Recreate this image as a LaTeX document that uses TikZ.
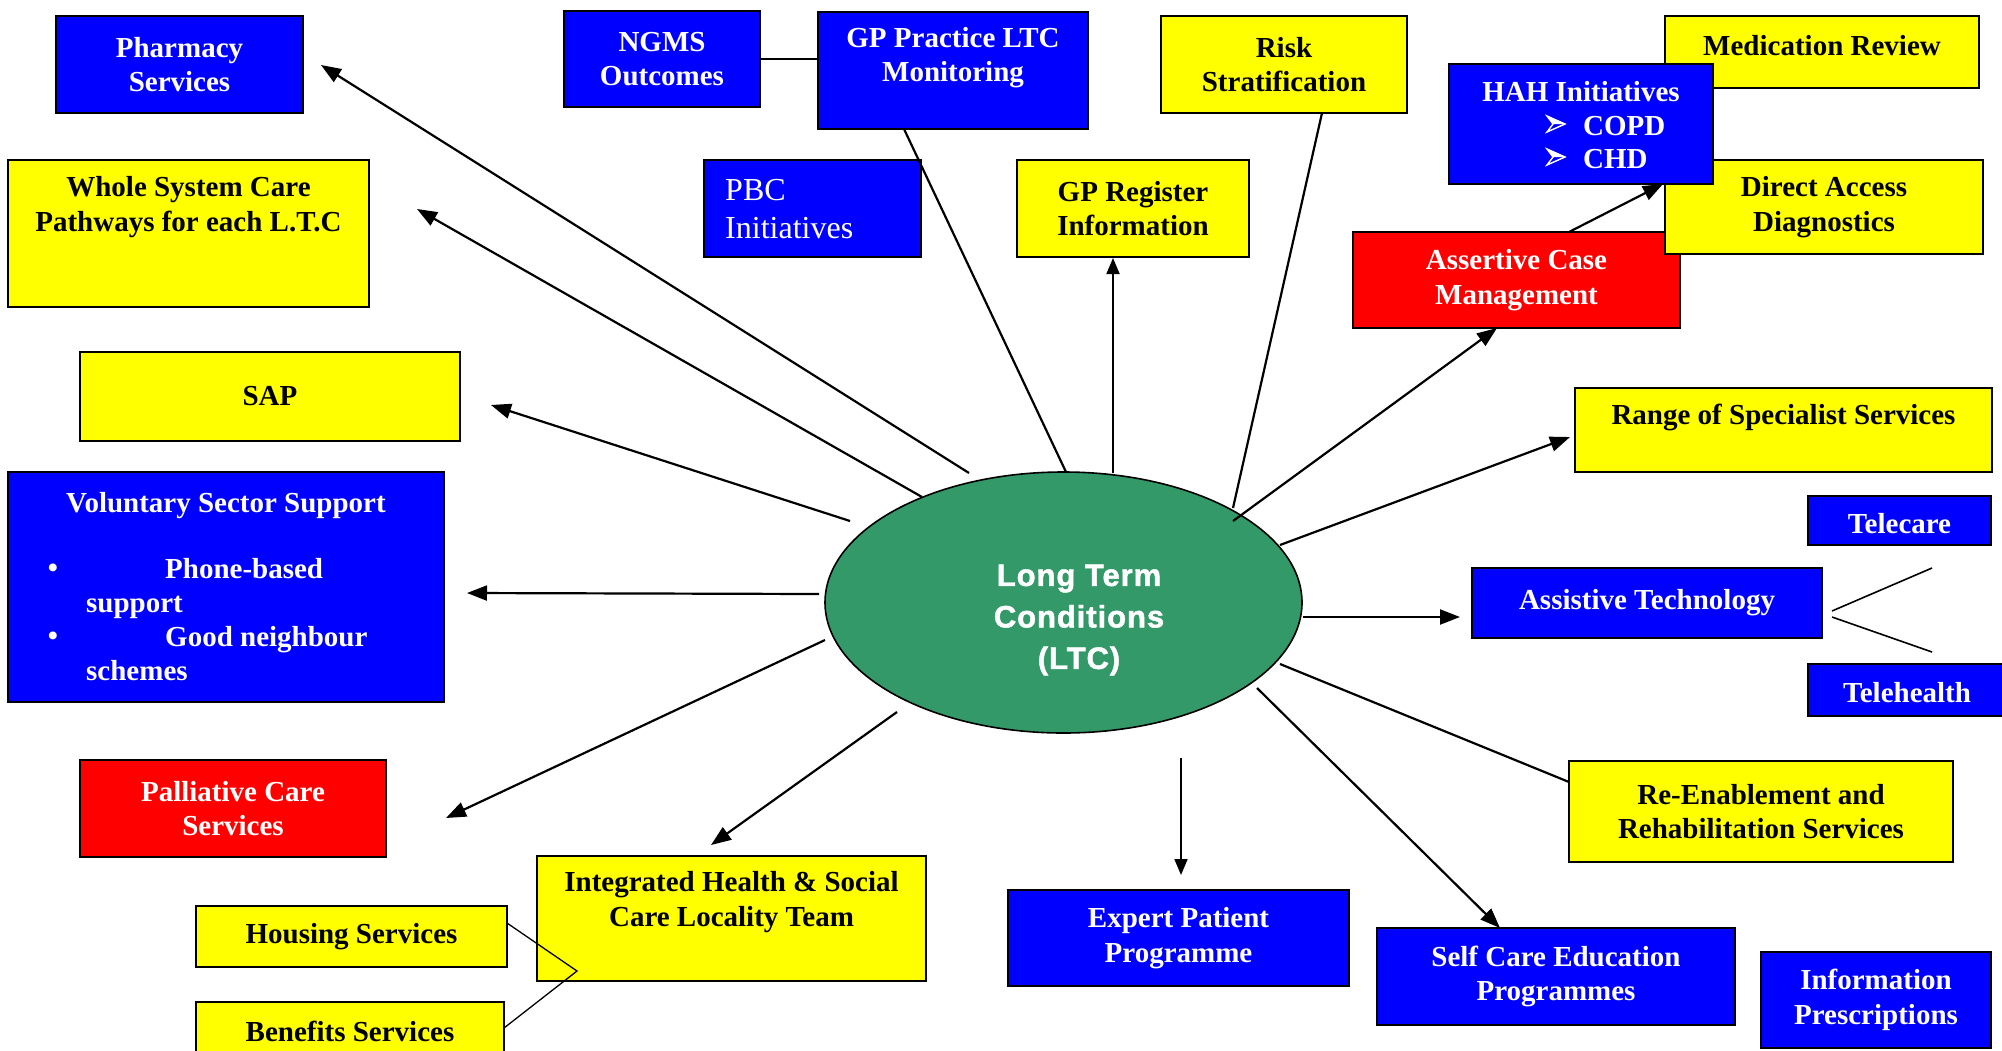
\documentclass[tikz,border=0pt]{standalone}
\usepackage{fontspec}
\setmainfont{Liberation Serif}
\newfontfamily\ltcfont[BoldFeatures={FakeBold=1.5},LetterSpace=3]{Liberation Sans}
\usetikzlibrary{arrows.meta,shapes.geometric}

\definecolor{ltcgreen}{RGB}{52,153,104}
\definecolor{pblue}{RGB}{0,0,255}
\definecolor{pyellow}{RGB}{255,255,0}
\definecolor{pred}{RGB}{255,0,0}

% box given by its two corners (x1,y1) (x2,y2)
\newcommand\panelbox[7]{%
  \node[#1,minimum width={#5-#3},minimum height={#6-#4}] (#2)
    at ({(#3+#5)/2},{(#4+#6)/2}) {#7};}

% 3-D arrowhead bullet centred on the given point
\newcommand\arrowbullet[1]{%
  \begin{scope}[shift={#1}]
    \fill[white] (9,0) -- (-9,-8) -- (-3,0) -- cycle;
    \draw[white,line width=1.4pt,line join=miter] (9,0) -- (-9,-8) -- (-3,0) -- (-9,8) -- cycle;
  \end{scope}}

\begin{document}
\begin{tikzpicture}[x=1pt,y=-1pt,
  boxfont/.style={font=\fontsize{29}{34.5}\selectfont\bfseries},
  panel/.style={draw=black,line width=2pt,rectangle,inner sep=0pt,align=center,boxfont},
  bluebox/.style={panel,fill=pblue,text=white},
  yellowbox/.style={panel,fill=pyellow,text=black},
  redbox/.style={panel,fill=pred,text=white},
  wtext/.style={inner sep=0pt,align=center,boxfont,text=white},
  ktext/.style={inner sep=0pt,align=center,boxfont,text=black},
  conn/.style={line width=2.2pt,black},
  arr/.style={conn,-{Triangle[length=20pt,width=15pt]}},
  thinarr/.style={line width=1.8pt,black,-{Triangle[length=16pt,width=13pt]}},
  thinline/.style={line width=1.3pt,black},
  fanline/.style={line width=1.6pt,black}]

\fill[white] (0,0) rectangle (2002,1050);
\clip (0,0) rectangle (2002,1050);

% ---------- top row ----------
\panelbox{bluebox}{pharm}{56}{16}{303}{113}{Pharmacy\\Services}
\panelbox{bluebox}{ngms}{564}{11}{760}{107}{NGMS\\Outcomes}
\panelbox{bluebox}{gpp}{818}{12}{1088}{129}{}
\node[wtext] (gppT) at (953,57.5) {GP Practice LTC\\Monitoring};
\panelbox{yellowbox}{risk}{1161}{16}{1407}{113}{Risk\\Stratification}

% ---------- right cluster ----------
\panelbox{redbox}{acm}{1353}{232}{1680}{328}{Assertive Case\\Management}
\panelbox{yellowbox}{dad}{1665}{160}{1983}{254}{Direct Access\\Diagnostics}
\panelbox{yellowbox}{med}{1665}{16}{1979}{88}{}
\node[ktext] (medT) at (1822,46) {Medication Review};
\panelbox{bluebox}{hah}{1449}{64}{1713}{184}{}
\node[wtext,anchor=base] (hahT) at (1581,101) {HAH Initiatives};
\arrowbullet{(1556,124)}
\arrowbullet{(1556,157)}
\node[wtext,anchor=base west] (hahC) at (1583,135) {COPD};
\node[wtext,anchor=base west] (hahD) at (1583,168) {CHD};

% ---------- second row ----------
\panelbox{yellowbox}{wsc}{8}{160}{369}{307}{}
\node[ktext] (wscT) at (188.5,207) {Whole System Care\\Pathways for each L.T.C};
\panelbox{bluebox}{pbc}{704}{160}{921}{257}{}
\node[inner sep=0pt,align=left,text=white,anchor=west,font=\fontsize{32}{38}\selectfont] (pbcT) at (725,209) {PBC\\Initiatives};
\panelbox{yellowbox}{gpr}{1017}{160}{1249}{257}{GP Register\\Information}

% ---------- left column ----------
\panelbox{yellowbox}{sap}{80}{352}{460}{441}{SAP}
\panelbox{bluebox}{vol}{8}{472}{444}{702}{}
\node[wtext,anchor=base] (volT) at (226,512) {Voluntary Sector Support};
\node[wtext] (volB1) at (53,571) {•};
\node[wtext] (volB2) at (53,639) {•};
\node[wtext,anchor=base west] (volL1) at (165,578) {Phone-based};
\node[wtext,anchor=base west] (volL2) at (86,612) {support};
\node[wtext,anchor=base west] (volL3) at (165,646) {Good neighbour};
\node[wtext,anchor=base west] (volL4) at (86,680) {schemes};
\panelbox{redbox}{pall}{80}{760}{386}{857}{Palliative Care\\Services}

% ---------- right column ----------
\panelbox{yellowbox}{range}{1575}{388}{1992}{472}{}
\node[ktext] (rangeT) at (1783.5,417) {Range of Specialist Services};
\panelbox{bluebox}{tcare}{1808}{496}{1991}{545}{}
\node[wtext] (tcareT) at (1899.5,524) {Telecare};
\panelbox{bluebox}{assist}{1472}{568}{1822}{638}{Assistive Technology}
\panelbox{bluebox}{thealth}{1808}{664}{2006}{716}{}
\node[wtext] (thealthT) at (1907,693) {Telehealth};
\panelbox{yellowbox}{reen}{1569}{761}{1953}{862}{Re-Enablement and\\Rehabilitation Services}

% ---------- bottom row ----------
\panelbox{yellowbox}{ihsc}{537}{856}{926}{981}{}
\node[ktext] (ihscT) at (731.5,902) {Integrated Health \& Social\\Care Locality Team};
\panelbox{yellowbox}{house}{196}{906}{507}{967}{Housing Services}
\panelbox{yellowbox}{benef}{196}{1002}{504}{1060}{Benefits Services}
\panelbox{bluebox}{expert}{1008}{890}{1349}{986}{Expert Patient\\Programme}
\panelbox{bluebox}{selfc}{1377}{928}{1735}{1025}{Self Care Education\\Programmes}
\panelbox{bluebox}{infop}{1761}{952}{1991}{1048}{Information\\Prescriptions}

% ---------- centre ----------
\node[ellipse,draw=black,line width=1.6pt,fill=ltcgreen,minimum width=477,minimum height=261,inner sep=0pt] (ltc) at (1063.5,602.5) {};
\node[inner sep=0pt,align=center,text=white,font=\ltcfont\bfseries\fontsize{31}{41.5}\selectfont] (ltcT) at (1079,620) {Long Term\\Conditions\\(LTC)};

% ---------- connector end points ----------
\coordinate (sPharm) at (969,473);  \coordinate (tPharm) at (321,65);
\coordinate (sWsc)   at (922,497);  \coordinate (tWsc)   at (417,209);
\coordinate (sSap)   at (850,521);  \coordinate (tSap)   at (491,405);
\coordinate (sVol)   at (819,594);  \coordinate (tVol)   at (467,593);
\coordinate (sPall)  at (825,640);  \coordinate (tPall)  at (446,818);
\coordinate (sIhsc)  at (897,712);  \coordinate (tIhsc)  at (711,845);
\coordinate (eGpp)   at (1066,472); \coordinate (sGpp)   at (904,129);
\coordinate (sGpr)   at (1113,473);
\coordinate (eRisk)  at (1233,508); \coordinate (sRisk)  at (1322,113);
\coordinate (sAcm)   at (1233,521); \coordinate (tAcm)   at (1497,328);
\coordinate (sHah)   at (1569,232); \coordinate (tHah)   at (1663,184);
\coordinate (sRange) at (1280,545); \coordinate (tRange) at (1570,437);
\coordinate (sAssist) at (1303,617); \coordinate (tAssist) at (1460,617);
\coordinate (sReen)  at (1280,664); \coordinate (tReen)  at (1569,782);
\coordinate (sSelf)  at (1257,688); \coordinate (tSelf)  at (1500,928);
\coordinate (sExp)   at (1181,758); \coordinate (tExp)   at (1181,875);
\coordinate (fan0)   at (1832,611); \coordinate (fan1)   at (1932,568);
\coordinate (fan2)   at (1832,617); \coordinate (fan3)   at (1932,652);
\coordinate (hbJoin) at (577,971);
\coordinate (hOut)   at (507,923);  \coordinate (bOut)   at (504,1028);

% ---------- connectors ----------
\draw[conn] (ngms.east) -- (ngms.east -| gpp.west);
\draw[arr] (sPharm) -- (tPharm);
\draw[arr] (sWsc) -- (tWsc);
\draw[arr] (sSap) -- (tSap);
\draw[arr] (sVol) -- (tVol);
\draw[arr] (sPall) -- (tPall);
\draw[arr] (sIhsc) -- (tIhsc);
\draw[conn] (sGpp) -- (eGpp);
\draw[thinarr] (sGpr) -- (sGpr |- gpr.south);
\draw[conn] (sRisk) -- (eRisk);
\draw[arr] (sAcm) -- (tAcm);
\draw[arr] (sHah) -- (tHah);
\draw[arr] (sRange) -- (tRange);
\draw[arr] (sAssist) -- (tAssist);
\draw[conn] (sReen) -- (tReen);
\draw[arr] (sSelf) -- (tSelf);
\draw[thinarr] (sExp) -- (tExp);
\draw[fanline] (fan0) -- (fan1);
\draw[fanline] (fan2) -- (fan3);
\draw[thinline] (hOut) -- (hbJoin) -- (bOut);

\end{tikzpicture}
\end{document}
